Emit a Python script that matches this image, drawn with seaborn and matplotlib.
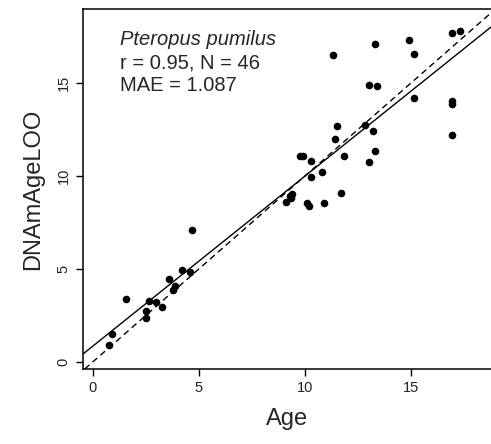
import matplotlib
matplotlib.use('Agg')
import matplotlib.pyplot as plt
import numpy as np
import pandas as pd
import seaborn as sns

sns.set_style('white')
plt.rcParams['font.family'] = ['Liberation Sans', 'DejaVu Sans']

# chronological age vs leave-one-out DNAm age estimate
age = [0.79, 0.90, 1.59, 2.50, 2.50, 2.68, 3.01, 3.29, 3.59, 3.81, 3.87, 4.20,
       4.60, 4.71, 9.12, 9.29, 9.33, 9.39, 9.78, 9.92, 10.13, 10.20, 10.31, 10.31,
       10.82, 10.91, 11.32, 11.42, 11.51, 11.73, 11.83, 12.82, 13.04, 13.04, 13.23,
       13.32, 13.32, 13.43, 14.93, 15.13, 15.13, 16.94, 17.34, 16.94, 16.94, 16.94]
dnam_age = [0.90, 1.52, 3.42, 2.74, 2.37, 3.28, 3.23, 2.96, 4.46, 3.87, 4.12, 4.95,
            4.84, 7.11, 8.62, 8.91, 8.80, 9.05, 11.09, 11.06, 8.55, 8.41, 10.81, 9.93,
            10.22, 8.57, 16.52, 12.01, 12.72, 9.10, 11.06, 12.76, 10.75, 14.89, 12.42,
            17.10, 11.34, 14.84, 17.31, 16.56, 14.21, 17.72, 17.78, 14.05, 13.89, 12.22]
species = 'Pteropus pumilus'
stats_lines = ['r = 0.95, N = 46', 'MAE = 1.087']

df = pd.DataFrame({'Age': age, 'DNAmAgeLOO': dnam_age})

fig = plt.figure(figsize=(4.91, 4.44), dpi=100)
ax = fig.add_axes([83 / 491, 1 - 369 / 444, 1 - 83 / 491, 360 / 444])
ax.set_xlim(-0.45, 18.78)
ax.set_ylim(-0.37, 18.99)

# identity line
ax.axline((0, 0), slope=1, color='black', lw=1.0, ls=(0, (4.5, 3)))
# least squares fit across the whole panel
sns.regplot(data=df, x='Age', y='DNAmAgeLOO', ax=ax, ci=None, truncate=False,
            scatter_kws=dict(s=30, color='black', alpha=1, linewidths=0, zorder=3),
            line_kws=dict(color='black', lw=1.0))
ax.set_xlim(-0.45, 18.78)
ax.set_ylim(-0.37, 18.99)

ax.set_xticks([0, 5, 10, 15])
ax.set_yticks([0, 5, 10, 15])
ax.tick_params(axis='both', direction='out', length=5, width=1, color='black',
               labelsize=10.5, labelcolor='#222222', pad=4, bottom=True, left=True)
for lab in ax.get_yticklabels():
    lab.set_rotation(90)
    lab.set_va('center')
for side in ['left', 'bottom', 'top']:
    ax.spines[side].set_color('black')
    ax.spines[side].set_linewidth(1.1)
ax.spines['right'].set_visible(False)

ax.set_xlabel('Age', fontsize=17, labelpad=9)
ax.set_ylabel('DNAmAgeLOO', fontsize=17, labelpad=9)

ax.text(0.09, 0.90, species, transform=ax.transAxes, fontsize=14.5,
        style='italic', va='baseline', ha='left')
ax.text(0.09, 0.836, stats_lines[0], transform=ax.transAxes, fontsize=14.5,
        va='baseline', ha='left')
ax.text(0.09, 0.772, stats_lines[1], transform=ax.transAxes, fontsize=14.5,
        va='baseline', ha='left')

fig.savefig('out.png', dpi=100)
